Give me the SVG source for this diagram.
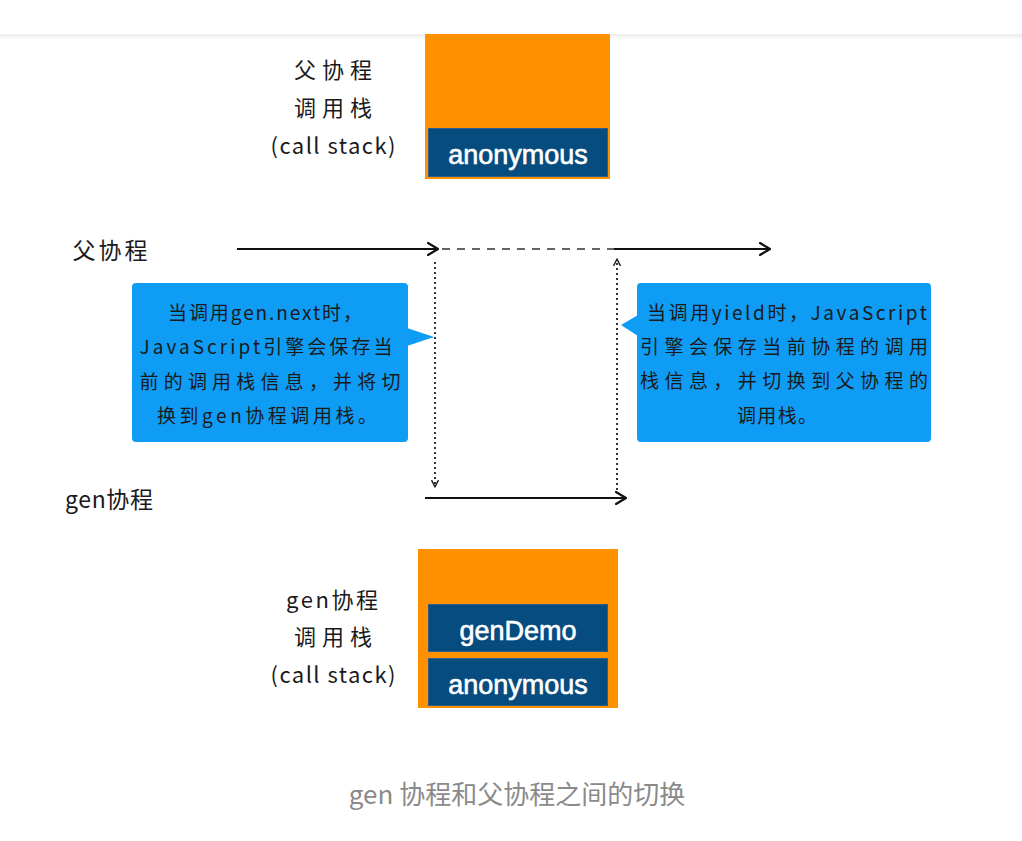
<svg xmlns="http://www.w3.org/2000/svg" width="1022" height="841" viewBox="0 0 1022 841">
<defs>
<linearGradient id="hdr" x1="0" y1="0" x2="0" y2="1">
<stop offset="0" stop-color="#ececec"/>
<stop offset="1" stop-color="#ffffff"/>
</linearGradient>
<marker id="open" viewBox="0 0 12 14" refX="11" refY="7" markerWidth="12" markerHeight="14" markerUnits="userSpaceOnUse" orient="auto">
<path d="M1,1 L11,7 L1,13" fill="none" stroke="#111" stroke-width="2.2" stroke-linecap="round" stroke-linejoin="round"/>
</marker>
<marker id="small" viewBox="0 0 10 10" refX="9" refY="5" markerWidth="8" markerHeight="8" markerUnits="userSpaceOnUse" orient="auto">
<path d="M1,1 L9,5 L1,9" fill="none" stroke="#222" stroke-width="1.8" stroke-linecap="round" stroke-linejoin="round"/>
</marker>
</defs>
<style>
.hand{font-family:"Noto Sans CJK SC","Noto Sans",sans-serif;fill:#1a1a1a;}
.lbl{font-size:22px;text-anchor:middle;}
.call{font-size:19px;text-anchor:middle;}
.boxt{font-family:"Liberation Sans",Arial,sans-serif;font-size:27px;fill:#ffffff;stroke:#ffffff;stroke-width:0.6;text-anchor:middle;}
.orange{fill:#ff9100;}
.blue{fill:#074c7f;stroke:#2d5f8f;stroke-width:1;}
.bubble{fill:#0f9cf5;}
.solid{stroke:#111;stroke-width:2;fill:none;}
.dotted{stroke:#333;stroke-width:2;stroke-dasharray:2 3;fill:none;}
.dashed{stroke:#333;stroke-width:1.6;stroke-dasharray:8 7;fill:none;}
</style>
<rect x="0" y="0" width="1022" height="841" fill="#ffffff"/>
<rect x="0" y="34" width="1022" height="6" fill="url(#hdr)"/>

<g id="parent-stack">
<rect class="orange" x="425" y="34" width="185" height="145"/>
<rect class="blue" x="428.5" y="128.5" width="179" height="48"/>
<text class="boxt" x="518" y="164">anonymous</text>
</g>
<g id="parent-stack-label" class="hand">
<text class="lbl" x="333" y="78" textLength="78">父协程</text>
<text class="lbl" x="333" y="116" textLength="78">调用栈</text>
<text class="lbl" x="333" y="154" textLength="125">(call stack)</text>
</g>

<g id="parent-label" class="hand">
<text x="110" y="259" font-size="23" text-anchor="middle" textLength="75">父协程</text>
</g>
<g id="gen-label" class="hand">
<text x="109" y="508" font-size="23" text-anchor="middle" textLength="88">gen协程</text>
</g>

<g id="connectors">
<line class="solid" x1="237" y1="249" x2="438" y2="249" marker-end="url(#open)"/>
<line class="dashed" x1="442" y1="249" x2="614" y2="249"/>
<line class="solid" x1="614" y1="249" x2="770" y2="249" marker-end="url(#open)"/>
<line class="dotted" x1="435" y1="262" x2="435" y2="487" marker-end="url(#small)"/>
<line class="solid" x1="425" y1="498" x2="626" y2="498" marker-end="url(#open)"/>
<line class="dotted" x1="617" y1="490" x2="617" y2="259" marker-end="url(#small)"/>
</g>

<g id="callout-left">
<rect class="bubble" x="132" y="283" width="276" height="159" rx="4"/>
<polygon class="bubble" points="407,328 434,337 407,346"/>
<g class="hand call">
<text x="265" y="320" textLength="194">当调用gen.next时，</text>
<text x="266" y="354" textLength="253">JavaScript引擎会保存当</text>
<text x="270" y="389" textLength="261">前的调用栈信息，并将切</text>
<text x="267" y="423" textLength="220">换到gen协程调用栈。</text>
</g>
</g>

<g id="callout-right">
<rect class="bubble" x="637" y="283" width="294" height="159" rx="4"/>
<polygon class="bubble" points="638,315 621,325 638,336"/>
<g class="hand call">
<text x="787" y="320" textLength="280">当调用yield时，JavaScript</text>
<text x="784" y="354" textLength="288">引擎会保存当前协程的调用</text>
<text x="784" y="388" textLength="288">栈信息，并切换到父协程的</text>
<text x="777" y="423" textLength="80">调用栈。</text>
</g>
</g>

<g id="gen-stack">
<rect class="orange" x="418" y="549" width="200" height="159"/>
<rect class="blue" x="428.5" y="604.5" width="179" height="47"/>
<text class="boxt" x="518" y="640">genDemo</text>
<rect class="blue" x="428.5" y="658.5" width="179" height="47"/>
<text class="boxt" x="518" y="694">anonymous</text>
</g>
<g id="gen-stack-label" class="hand">
<text class="lbl" x="332" y="608" textLength="92">gen协程</text>
<text class="lbl" x="333" y="645" textLength="78">调用栈</text>
<text class="lbl" x="333" y="683" textLength="125">(call stack)</text>
</g>

<g id="caption">
<text x="517" y="804" font-family="'Noto Sans CJK SC','Noto Sans',sans-serif" font-size="26" fill="#8a8a8a" text-anchor="middle">gen 协程和父协程之间的切换</text>
</g>
</svg>
